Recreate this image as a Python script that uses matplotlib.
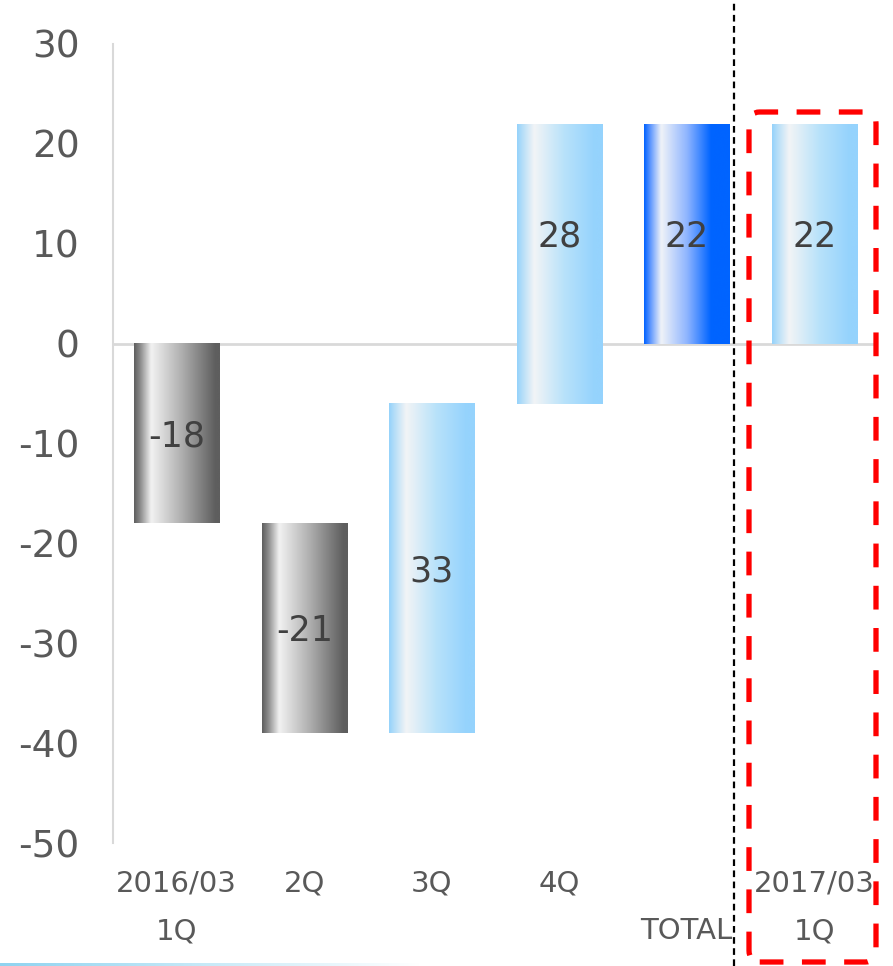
import numpy as np
import matplotlib
matplotlib.use("Agg")
import matplotlib.pyplot as plt
from matplotlib.colors import LinearSegmentedColormap
from matplotlib.patches import FancyBboxPatch
from matplotlib.lines import Line2D

# ---- data ----
categories = ["2016/03\n1Q", "2Q", "3Q", "4Q", "\nTOTAL", "2017/03\n1Q"]
values = [-18, -21, 33, 28, 22, 22]
bar_kind = ["gray", "gray", "light", "light", "blue", "light"]
is_total = [False, False, False, False, True, True]
yticks = [-50, -40, -30, -20, -10, 0, 10, 20, 30]

W, H, DPI = 893, 966, 100
fig = plt.figure(figsize=(W / DPI, H / DPI), dpi=DPI)
ax = fig.add_axes([113 / W, 1 - 843 / H, 765 / W, (843 - 44) / H])

def make_grad(kind):
    if kind == "gray":
        stops = [(0.0, "#5e5e5e"), (0.07, "#8a8a8a"), (0.2, "#f2f2f2"), (0.55, "#b0b0b0"), (0.95, "#5e5e5e"), (1.0, "#5e5e5e")]
    elif kind == "light":
        stops = [(0.0, "#95d2fb"), (0.07, "#b8dff8"), (0.2, "#f2f4f6"), (0.55, "#b8e2fa"), (0.9, "#95d3fd"), (1.0, "#95d3fd")]
    else:
        stops = [(0.0, "#0062ff"), (0.07, "#5b95ff"), (0.2, "#f0f3f8"), (0.5, "#8fb5ff"), (0.78, "#0064ff"), (1.0, "#0064ff")]
    return LinearSegmentedColormap.from_list(kind, stops)

grad = np.linspace(0, 1, 256).reshape(1, -1)
bw = 0.67
running = 0
for i, (v, k, tot) in enumerate(zip(values, bar_kind, is_total)):
    if tot:
        lo, hi = 0, v
    else:
        lo, hi = sorted([running, running + v])
        running += v
    ax.imshow(grad, cmap=make_grad(k), aspect="auto",
              extent=[i - bw / 2, i + bw / 2, lo, hi], zorder=2, interpolation="bicubic")
    # label in the middle of the visible part (positive part if the bar crosses zero)
    if lo < 0 < hi:
        ly = hi / 2
    else:
        ly = (lo + hi) / 2
    ax.text(i, ly - 0.3, f"{v}", ha="center", va="center",
            fontsize=25, color="#404040", zorder=4)

ax.axhline(0, color="#d9d9d9", lw=2, zorder=1)
ax.set_xlim(-0.5, 5.5)
ax.set_ylim(-50, 30)
ax.set_yticks(yticks)
ax.set_yticklabels([str(t) for t in yticks], fontsize=27, color="#595959")
ax.set_xticks(range(len(categories)))
ax.set_xticklabels(categories, fontsize=21, color="#595959", linespacing=1.9, va="top")
ax.tick_params(length=0)
ax.tick_params(axis="y", pad=24)
ax.tick_params(axis="x", pad=19)
for s in ["top", "right", "bottom"]:
    ax.spines[s].set_visible(False)
ax.spines["left"].set_color("#d9d9d9")
ax.spines["left"].set_linewidth(1.5)
ax.set_facecolor("none")

# dotted separator
fig.add_artist(Line2D([734 / W, 734 / W], [0, 1], color="black", lw=1.6,
                      linestyle=(0, (3, 2)), transform=fig.transFigure))

# red dashed rounded rectangle
x0, x1, yt, yb = 749, 876, 112, 962
rect = FancyBboxPatch((x0 / W, 1 - yb / H), (x1 - x0) / W, (yb - yt) / H,
                      boxstyle="round,pad=0,rounding_size=0.012",
                      transform=fig.transFigure, fill=False, edgecolor="#ff0000",
                      lw=3.8, linestyle=(0, (4.5, 3.5)))
fig.add_artist(rect)

# bottom gradient line
bax = fig.add_axes([0, 0, 420 / W, 3 / H])
bcmap = LinearSegmentedColormap.from_list("b", ["#8fd3f0", "#c8eaf8", "#ffffff"])
bax.imshow(grad, cmap=bcmap, aspect="auto", extent=[0, 1, 0, 1])
bax.axis("off")

fig.savefig("out.png", dpi=DPI)
